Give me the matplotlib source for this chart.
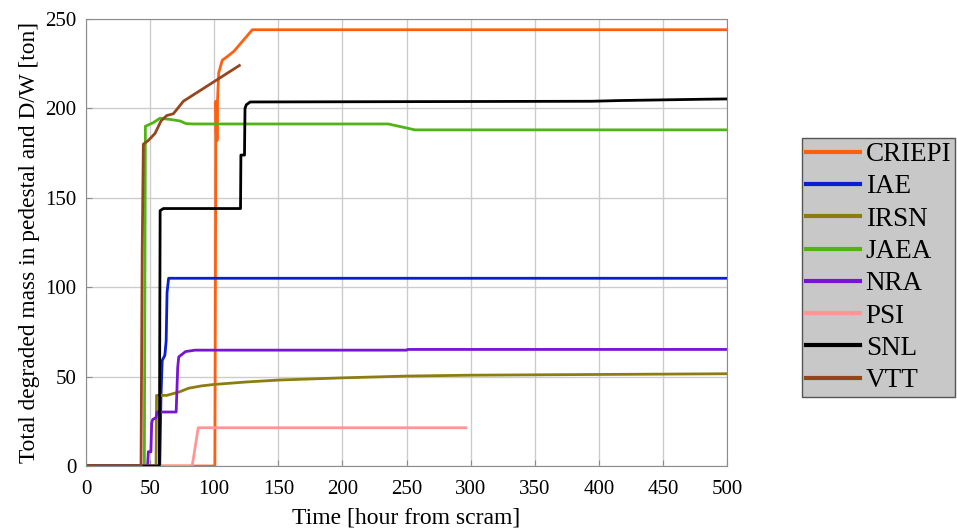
import matplotlib
matplotlib.use("Agg")
import matplotlib.pyplot as plt

plt.rcParams['font.family'] = ['Liberation Serif', 'DejaVu Serif']

# CRIEPI
criepi_t = [0, 100.5, 101.0, 101.3, 101.6, 101.9, 102.2, 102.6, 103.5, 106.3, 110.2, 115.4, 129.7, 500]
criepi_m = [0, 0, 120, 204, 186, 200, 182, 205, 220, 227, 229, 232, 244, 244]
# IAE
iae_t = [0, 57.5, 58.5, 59.4, 61.5, 62.5, 63.2, 64.4, 500]
iae_m = [0, 0, 40, 59, 62, 70, 97, 105, 105]
# IRSN
irsn_t = [0, 54.6, 55.0, 62.9, 68, 73, 80, 90, 99.6, 125, 151, 200, 250, 300, 400, 500]
irsn_m = [0, 0, 39.5, 39.5, 40.5, 41.5, 43.5, 44.8, 45.6, 47.0, 48.1, 49.3, 50.3, 50.8, 51.2, 51.6]
# JAEA
jaea_t = [0, 45.5, 46.3, 52.4, 57.6, 66, 73.2, 78, 83.6, 235.8, 256.6, 500]
jaea_m = [0, 0, 190, 192, 194.5, 193.8, 193, 191.5, 191.3, 191.3, 188, 188]
# NRA
nra_t = [0, 48.0, 48.6, 50.6, 51.2, 52.0, 54.5, 55.6, 70.3, 71.5, 72.3, 77.6, 85, 250, 251, 500]
nra_m = [0, 0, 8, 8, 24, 26, 27, 30.2, 30.2, 55, 61, 64, 64.8, 64.8, 65.2, 65.2]
# PSI
psi_t = [0, 82.8, 87.5, 296.4]
psi_m = [0, 0, 21.4, 21.4]
# SNL
snl_t = [0, 57.2, 57.8, 60.3, 120.5, 120.8, 123.6, 124.0, 125.0, 128.0, 394.4, 416.5, 479.0, 500]
snl_m = [0, 0, 142.8, 144, 144, 173.9, 173.9, 200, 202, 203.6, 204.0, 204.4, 205.1, 205.3]
# VTT
vtt_t = [0, 42.9, 43.8, 44.7, 48.5, 53.8, 58.5, 62.9, 68.1, 75.9, 119.6]
vtt_m = [0, 0, 120, 180, 182, 186, 193, 196, 197, 204, 224]

series = [
    ("CRIEPI", criepi_t, criepi_m, "#ff6010"),
    ("IAE", iae_t, iae_m, "#0a1ed2"),
    ("IRSN", irsn_t, irsn_m, "#8c7d10"),
    ("JAEA", jaea_t, jaea_m, "#50b414"),
    ("NRA", nra_t, nra_m, "#7814d2"),
    ("PSI", psi_t, psi_m, "#ff9696"),
    ("SNL", snl_t, snl_m, "#000000"),
    ("VTT", vtt_t, vtt_m, "#96461e"),
]

fig = plt.figure(figsize=(9.57, 5.28), dpi=100)
ax = fig.add_axes([0.0899, 0.1174, 0.6698, 0.8466])

for name, t, m, c in series:
    ax.plot(t, m, color=c, lw=2.0, label=name)

ax.set_xlim(0, 500)
ax.set_ylim(0, 250)
ax.set_xticks(range(0, 501, 50))
ax.set_yticks(range(0, 251, 50))
ax.grid(True, color="#cccccc", lw=1.0)
ax.set_axisbelow(True)
for s in ax.spines.values():
    s.set_color("#8c8c8c")
ax.tick_params(direction="in", color="#8c8c8c", labelsize=15, length=4)
ax.tick_params(axis="x", pad=10)
ax.tick_params(axis="y", pad=7)
ax.set_xlabel("Time [hour from scram]", fontsize=17, labelpad=6)
ax.set_ylabel("Total degraded mass in pedestal and D/W [ton]", fontsize=16.8, labelpad=4)

leg = fig.legend(loc="upper left", bbox_to_anchor=(802 / 957, 1 - 138 / 528),
                 fontsize=19.5, frameon=True, fancybox=False, handlelength=2.0,
                 handletextpad=0.2, labelspacing=0.27, borderpad=0.15,
                 borderaxespad=0)
leg.get_frame().set_facecolor("#c8c8c8")
leg.get_frame().set_edgecolor("#555555")
leg.get_frame().set_alpha(1.0)
for line in leg.get_lines():
    line.set_linewidth(3)

fig.savefig("out.png", dpi=100)
